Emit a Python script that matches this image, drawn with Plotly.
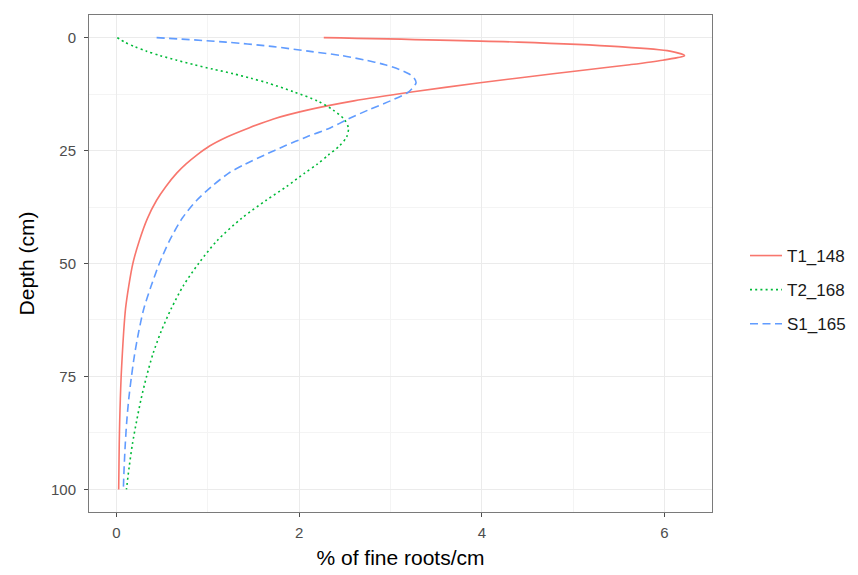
import plotly.graph_objects as go

# Depth (cm)
depth = [0, 1, 2, 3, 4, 5, 6, 7, 8, 9, 10, 12, 14, 16, 18, 20, 22, 24, 26, 28, 30,
         33, 36, 40, 45, 50, 55, 60, 65, 70, 75, 80, 85, 90, 95, 100]

# % of fine roots/cm per series
t1_148 = [2.27, 4.40, 5.50, 6.06, 6.22, 5.98, 5.62, 5.20, 4.78, 4.38, 3.98, 3.25, 2.60, 2.10,
          1.72, 1.45, 1.21, 1.02, 0.88, 0.76, 0.66, 0.54, 0.44, 0.34, 0.25, 0.18, 0.135,
          0.10, 0.08, 0.065, 0.052, 0.043, 0.036, 0.031, 0.028, 0.025]
t2_168 = [0.01, 0.09, 0.20, 0.33, 0.48, 0.66, 0.85, 1.06, 1.28, 1.47, 1.65, 1.94, 2.20, 2.37,
          2.49, 2.54, 2.52, 2.44, 2.32, 2.20, 2.06, 1.86, 1.64, 1.37, 1.10, 0.90, 0.73,
          0.60, 0.49, 0.40, 0.33, 0.27, 0.22, 0.175, 0.14, 0.11]
s1_165 = [0.44, 1.20, 1.72, 2.10, 2.47, 2.73, 2.94, 3.09, 3.20, 3.26, 3.28, 3.20, 3.00, 2.76,
          2.54, 2.34, 2.08, 1.84, 1.62, 1.41, 1.23, 1.04, 0.88, 0.72, 0.58, 0.47, 0.38,
          0.30, 0.245, 0.20, 0.165, 0.135, 0.113, 0.097, 0.085, 0.076]

series_names = ["T1_148", "T2_168", "S1_165"]
series_values = [t1_148, t2_168, s1_165]
series_colors = ["#F8766D", "#00BA38", "#619CFF"]
series_dash = ["solid", "2px,3.2px", "8px,4.5px"]

x_ticks = [0, 2, 4, 6]
y_ticks = [0, 25, 50, 75, 100]

FONT = "Liberation Sans, Arial, sans-serif"

fig = go.Figure()
for name, vals, col, dash in zip(series_names, series_values, series_colors, series_dash):
    fig.add_trace(go.Scatter(
        x=vals, y=depth, mode="lines", name=name, legendgroup=name,
        line=dict(color=col, width=1.6, dash=dash, shape="spline", smoothing=0.8),
    ))

# page body adds an 8px offset; figure coordinates below are screen - 8
W, H = 850, 567
L, R, T, B = 81, 704, 7, 504
pw, ph = R - L, B - T

fig.update_layout(
    width=W, height=H,
    margin=dict(l=L, r=W - R, t=T, b=H - B, autoexpand=False),
    paper_bgcolor="white",
    plot_bgcolor="white",
    font=dict(family=FONT, color="#000000"),
    legend=dict(
        x=(737 - L) / pw, xanchor="left",
        y=(B - 282) / ph, yanchor="middle",
        font=dict(size=17, color="#1a1a1a", family=FONT),
        tracegroupgap=9,
        itemwidth=32,
        bgcolor="rgba(0,0,0,0)",
    ),
    xaxis=dict(
        range=[-0.3, 6.52], tickvals=x_ticks, ticktext=[str(v) for v in x_ticks],
        showgrid=True, gridcolor="#ebebeb", gridwidth=1,
        minor=dict(dtick=1, showgrid=True, gridcolor="#f4f4f4", gridwidth=1, ticks=""),
        showline=True, mirror=True, linecolor="#7a7a7a", linewidth=1,
        ticks="outside", ticklen=4, tickcolor="#4d4d4d", tickwidth=1,
        tickfont=dict(size=15, color="#4d4d4d", family=FONT),
        ticklabelstandoff=3,
        zeroline=False,
        title=dict(text="% of fine roots/cm", font=dict(size=21, color="#000000", family=FONT), standoff=10),
    ),
    yaxis=dict(
        range=[105, -5], tickvals=y_ticks, ticktext=[str(v) for v in y_ticks],
        showgrid=True, gridcolor="#ebebeb", gridwidth=1,
        minor=dict(dtick=12.5, showgrid=True, gridcolor="#f4f4f4", gridwidth=1, ticks=""),
        showline=True, mirror=True, linecolor="#7a7a7a", linewidth=1,
        ticks="outside", ticklen=4, tickcolor="#4d4d4d", tickwidth=1,
        tickfont=dict(size=15, color="#4d4d4d", family=FONT),
        ticklabelstandoff=5,
        zeroline=False,
        title=dict(text="Depth (cm)", font=dict(size=21, color="#000000", family=FONT), standoff=10),
    ),
)

fig.write_html("out.html")
